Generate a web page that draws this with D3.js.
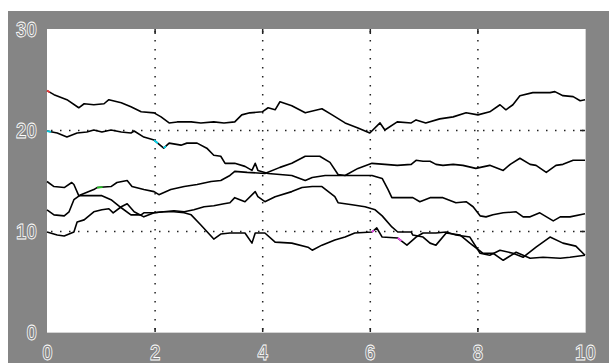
<!DOCTYPE html>
<html>
<head>
<meta charset="utf-8">
<script src="https://cdn.jsdelivr.net/npm/d3@7"></script>
<style>
  body { margin: 0; background: #fff; }
  .lbl text { fill: none; stroke: #fff; stroke-width: 0.8; font-family: "Liberation Sans", Arial, sans-serif; font-size: 22px; font-weight: bold; }
</style>
</head>
<body>
<div id="chart"></div>
<script>
const xTicks = [0, 2, 4, 6, 8, 10];
const yTicks = [0, 10, 20, 30];
const gridX = [2, 4, 6, 8];
const gridY = [10, 20];

const seriesA = [[0,23.9],[0.13,23.5],[0.37,23.0],[0.59,22.2],[0.69,22.6],[0.87,22.5],[1.06,22.6],[1.15,23.0],[1.38,22.7],[1.56,22.3],[1.75,21.8],[1.99,21.7],[2.12,21.3],[2.27,20.7],[2.42,20.8],[2.68,20.8],[2.86,20.7],[3.10,20.8],[3.29,20.7],[3.49,20.8],[3.62,21.5],[3.77,21.7],[4.00,21.8],[4.11,22.2],[4.24,22.0],[4.33,22.8],[4.55,22.4],[4.80,21.7],[5.11,22.1],[5.30,21.5],[5.54,20.7],[5.78,20.2],[6.00,19.7],[6.19,20.7],[6.28,20.0],[6.51,20.8],[6.77,20.7],[6.86,21.0],[7.04,20.7],[7.30,21.1],[7.55,21.3],[7.79,21.7],[8.01,21.5],[8.23,21.8],[8.42,22.5],[8.53,22.0],[8.66,22.5],[8.79,23.4],[9.03,23.7],[9.35,23.7],[9.44,23.8],[9.59,23.4],[9.78,23.3],[9.91,22.9],[10,23.0]];

const seriesB = [[0,19.9],[0.19,19.7],[0.37,19.3],[0.56,19.7],[0.74,19.8],[0.87,20.0],[1.02,19.8],[1.19,20.0],[1.38,19.8],[1.56,19.7],[1.62,19.9],[1.80,19.3],[1.99,19.0],[2.17,18.2],[2.27,18.7],[2.49,18.5],[2.60,18.7],[2.79,18.7],[2.97,18.2],[3.10,17.5],[3.23,17.4],[3.31,16.7],[3.49,16.7],[3.68,16.4],[3.81,16.0],[3.87,16.7],[3.92,16.0],[4.11,15.7],[4.55,15.5],[4.80,15.0],[4.93,15.3],[5.17,15.5],[5.41,15.5],[5.78,15.5],[6.04,15.5],[6.23,15.2],[6.34,14.1],[6.41,13.3],[6.62,13.3],[6.80,13.3],[6.93,12.9],[7.12,13.3],[7.36,13.3],[7.60,12.8],[7.79,12.9],[7.92,12.4],[8.05,11.5],[8.16,11.4],[8.29,11.6],[8.48,11.8],[8.72,11.9],[8.85,11.4],[8.98,11.4],[9.16,11.8],[9.41,11.0],[9.54,11.4],[9.72,11.4],[10,11.7]];

const seriesC = [[0,14.9],[0.13,14.4],[0.32,14.3],[0.46,14.8],[0.50,14.6],[0.59,13.5],[0.74,13.5],[1.02,13.5],[1.19,13.1],[1.38,12.3],[1.56,11.6],[1.75,11.6],[1.80,11.8],[1.99,11.8],[2.17,11.9],[2.36,12.0],[2.55,11.9],[2.73,12.1],[2.92,12.4],[3.10,12.5],[3.29,12.7],[3.40,12.8],[3.49,13.3],[3.68,12.9],[3.87,13.9],[3.92,13.4],[4.05,12.9],[4.24,13.4],[4.55,13.9],[4.74,14.3],[4.93,14.4],[5.11,14.4],[5.35,13.4],[5.41,12.8],[5.67,12.6],[5.91,12.4],[6.10,12.1],[6.23,11.5],[6.41,10.4],[6.52,9.9],[6.77,9.9],[6.80,9.6],[6.99,9.4],[7.12,8.8],[7.23,8.6],[7.42,9.8],[7.68,9.6],[7.86,8.8],[8.10,7.8],[8.29,7.8],[8.48,7.1],[8.72,7.9],[8.98,7.3],[9.22,7.4],[9.54,7.3],[9.72,7.4],[10,7.6]];

const seriesD = [[0,12.1],[0.13,11.6],[0.32,11.5],[0.41,11.9],[0.50,13.1],[0.63,13.6],[0.87,14.1],[0.93,14.3],[1.19,14.4],[1.30,14.8],[1.49,15.0],[1.58,14.4],[1.80,14.1],[1.99,13.9],[2.08,13.6],[2.30,14.1],[2.55,14.4],[2.79,14.6],[3.05,14.9],[3.23,15.0],[3.40,15.5],[3.49,15.9],[3.72,15.8],[4.05,15.7],[4.33,16.3],[4.55,16.7],[4.80,17.4],[5.07,17.4],[5.26,16.8],[5.41,15.6],[5.54,15.5],[5.78,16.2],[6.04,16.7],[6.28,16.6],[6.51,16.5],[6.77,16.6],[6.86,17.0],[6.99,16.9],[7.12,16.9],[7.23,16.6],[7.36,16.5],[7.55,16.6],[7.73,16.5],[7.97,16.2],[8.23,16.5],[8.48,16.0],[8.61,16.6],[8.79,17.2],[8.98,16.6],[9.09,16.5],[9.28,15.8],[9.46,16.5],[9.59,16.6],[9.78,17.0],[10,17.0]];

const seriesE = [[0,9.9],[0.19,9.6],[0.32,9.5],[0.50,9.9],[0.56,10.9],[0.69,11.1],[0.87,11.9],[1.02,12.1],[1.15,12.2],[1.23,11.8],[1.38,12.4],[1.49,12.7],[1.62,11.9],[1.80,11.4],[1.99,11.8],[2.17,11.9],[2.36,11.9],[2.55,11.8],[2.68,11.6],[2.86,10.6],[3.10,9.2],[3.23,9.7],[3.40,9.8],[3.68,9.8],[3.81,8.8],[3.87,9.8],[4.05,9.8],[4.24,8.9],[4.55,8.8],[4.85,8.4],[4.93,8.1],[5.11,8.6],[5.35,9.1],[5.54,9.4],[5.72,9.8],[6.04,9.9],[6.13,10.3],[6.23,9.4],[6.52,9.3],[6.69,8.6],[6.86,9.4],[6.99,9.8],[7.23,9.8],[7.42,9.9],[7.60,9.6],[7.86,9.4],[8.05,7.8],[8.23,7.6],[8.42,8.1],[8.66,7.8],[8.85,7.4],[9.09,8.4],[9.35,9.4],[9.59,8.8],[9.83,8.5],[10,7.6]];

const series = [seriesA, seriesB, seriesC, seriesD, seriesE];

// small coloured bits along the traces: [series index, point index, colour]
const highlights = [[0, 0, "#f03c3c"], [1, 0, "#00c8e0"], [1, 12, "#00d8f0"], [1, 13, "#00d8f0"], [3, 7, "#20c020"], [4, 35, "#f040f0"], [4, 38, "#f040f0"]];

const W = 609, H = 363;
const plot = {left: 47, top: 29, right: 585, bottom: 332};

const svg = d3.select("#chart").append("svg")
  .attr("width", W)
  .attr("height", H);

svg.append("rect")
  .attr("x", 8).attr("y", 11)
  .attr("width", W - 8).attr("height", H - 11)
  .attr("fill", "#858585");

svg.append("rect")
  .attr("x", plot.left).attr("y", plot.top)
  .attr("width", plot.right - plot.left).attr("height", plot.bottom - plot.top)
  .attr("fill", "#fff");

const x = d3.scaleLinear().domain([0, 10]).range([plot.left, plot.right]);
const y = d3.scaleLinear().domain([0, 30]).range([plot.bottom, plot.top]);

// dotted grid
svg.append("g")
  .selectAll("line")
  .data(gridX)
  .join("line")
  .attr("x1", d => x(d) + 0.5).attr("x2", d => x(d) + 0.5)
  .attr("y1", plot.top + 2).attr("y2", plot.bottom)
  .attr("stroke", "#222")
  .attr("stroke-width", 1.5)
  .attr("stroke-dasharray", "1.5,7.5");

svg.append("g")
  .selectAll("line")
  .data(gridY)
  .join("line")
  .attr("x1", plot.left + 4).attr("x2", plot.right)
  .attr("y1", d => y(d) + 0.5).attr("y2", d => y(d) + 0.5)
  .attr("stroke", "#222")
  .attr("stroke-width", 1.5)
  .attr("stroke-dasharray", "1.5,7.5");

// short inner ticks on the edges
svg.append("g")
  .attr("transform", `translate(0,${plot.top})`)
  .call(d3.axisBottom(x).tickValues(gridX).tickSize(5).tickFormat(""))
  .call(g => g.select(".domain").remove())
  .selectAll("line").attr("stroke", "#222").attr("stroke-width", 1.5);

svg.append("g")
  .attr("transform", `translate(0,${plot.bottom})`)
  .call(d3.axisTop(x).tickValues(gridX).tickSize(4).tickFormat(""))
  .call(g => g.select(".domain").remove())
  .selectAll("line").attr("stroke", "#222").attr("stroke-width", 1.5);

svg.append("g")
  .attr("transform", `translate(${plot.right},0)`)
  .call(d3.axisLeft(y).tickValues(gridY).tickSize(5).tickFormat(""))
  .call(g => g.select(".domain").remove())
  .selectAll("line").attr("stroke", "#222").attr("stroke-width", 1.5);

// light edge on the right and bottom of the plot
svg.append("path")
  .attr("d", `M${plot.right + 0.5},${plot.top}V${plot.bottom + 0.5}H${plot.left}`)
  .attr("fill", "none")
  .attr("stroke", "#d4d4d4");

// traces
const line = d3.line()
  .x(d => x(d[0]))
  .y(d => y(d[1]));

svg.append("g")
  .selectAll("path")
  .data(series)
  .join("path")
  .attr("d", line)
  .attr("fill", "none")
  .attr("stroke", "#000")
  .attr("stroke-width", 1.6)
  .attr("stroke-linejoin", "round");

svg.append("g")
  .selectAll("path")
  .data(highlights)
  .join("path")
  .attr("d", d => {
    const s = series[d[0]];
    const a = s[d[1]], b = s[d[1] + 1];
    const m = [a[0] + (b[0] - a[0]) * 0.4, a[1] + (b[1] - a[1]) * 0.4];
    return line([a, m]);
  })
  .attr("fill", "none")
  .attr("stroke", d => d[2])
  .attr("stroke-width", 1.8);

// tick labels (narrowed a bit, the original font is condensed)
svg.append("g")
  .attr("class", "lbl")
  .attr("transform", `translate(0,${plot.bottom})`)
  .call(d3.axisBottom(x).tickValues(xTicks).tickSize(0).tickPadding(12).tickFormat(d3.format("d")))
  .call(g => g.select(".domain").remove())
  .selectAll("text").attr("dy", "0.71em").attr("transform", "scale(0.85,1)");

svg.append("g")
  .attr("class", "lbl")
  .attr("transform", `translate(${plot.left},0)`)
  .call(d3.axisLeft(y).tickValues(yTicks).tickSize(0).tickPadding(12).tickFormat(d3.format("d")))
  .call(g => g.select(".domain").remove())
  .selectAll("text").attr("transform", "scale(0.85,1)");
</script>
</body>
</html>
